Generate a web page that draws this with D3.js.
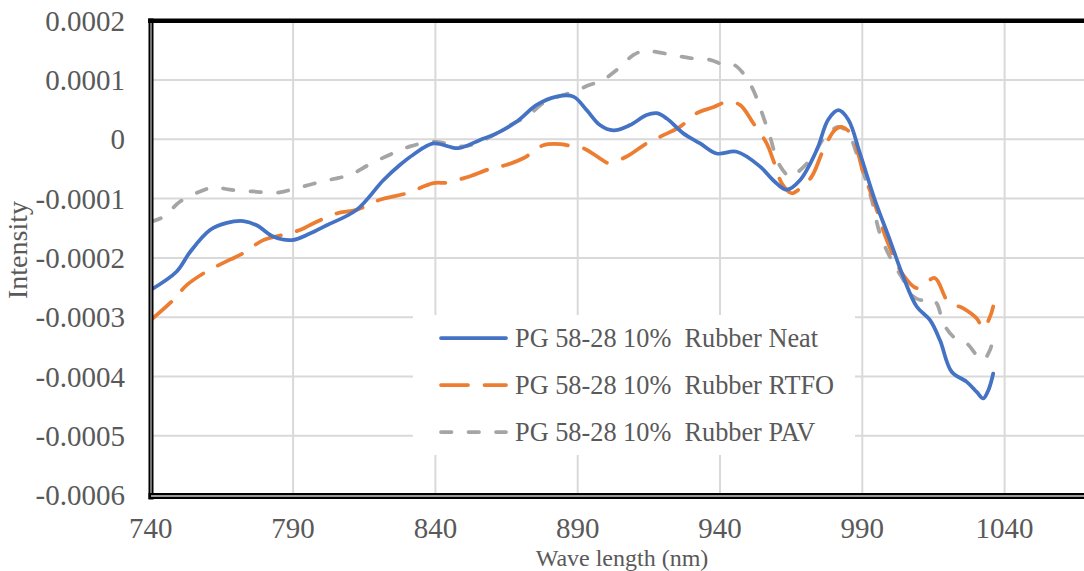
<!DOCTYPE html>
<html>
<head>
<meta charset="utf-8">
<script src="https://cdn.jsdelivr.net/npm/d3@7"></script>
<style>
  body { margin: 0; background: #fff; }
  svg { display: block; font-family: "Liberation Serif", "Times New Roman", serif; }
</style>
</head>
<body>
<script>
// wavelength (nm), intensity
const neat = [
  [740, -0.000254], [749.1, -0.000223], [753.8, -0.00019], [760.8, -0.000153],
  [766.7, -0.000141], [772.5, -0.000138], [777.2, -0.000145], [783, -0.000164],
  [789.5, -0.00017], [795.9, -0.000159], [801.8, -0.000145], [812.3, -0.000119],
  [821.7, -0.000069], [827.6, -0.000043], [832.2, -0.000026], [839.3, -0.000007],
  [848, -0.000015], [855.7, -0.000001], [861.5, 0.00001], [868.6, 0.00003],
  [875.6, 0.000058], [882.6, 0.000072], [888.5, 0.000072], [893.2, 0.000049],
  [897.8, 0.000024], [902.5, 0.000015], [908.4, 0.000024], [914.2, 0.000041],
  [917.8, 0.000044], [921.3, 0.000035], [927.1, 0.00001], [933, -0.000007],
  [938.8, -0.000024], [945.9, -0.000021], [954.1, -0.000046], [958.7, -0.000069],
  [963.4, -0.000085], [968.1, -0.000069], [974, -0.000018], [978, 0.000033],
  [981.6, 0.000049], [985.1, 0.000033], [989.2, -0.000024], [994.4, -0.000102],
  [999.7, -0.00017], [1004.4, -0.000232], [1009.1, -0.000282], [1013.8, -0.000305],
  [1017.3, -0.000339], [1021.4, -0.000392], [1026.7, -0.000409], [1030.2, -0.000426],
  [1032.5, -0.000437], [1034.3, -0.000423], [1036, -0.000395]
];
const rtfo = [
  [740, -0.000305], [747.9, -0.000271], [752.6, -0.000246], [759.6, -0.000223],
  [767.8, -0.000203], [772.5, -0.000192], [779.5, -0.00017], [786.6, -0.000161],
  [792.4, -0.000153], [798.3, -0.000139], [805.3, -0.000125], [812.3, -0.000119],
  [820.5, -0.000102], [829.9, -0.000091], [839.3, -0.000074], [844, -0.000073],
  [851, -0.000064], [859.2, -0.00005], [865.1, -0.000043], [870.9, -0.000032],
  [874.4, -0.000021], [877.9, -0.00001], [883.8, -0.000008], [887.3, -0.000011],
  [892, -0.000015], [897.8, -0.000032], [900.8, -0.00004], [907.2, -0.000029],
  [914.2, -0.000007], [920.1, 0.000007], [925.9, 0.000021], [931.8, 0.000044],
  [937.6, 0.000054], [942.4, 0.000063], [947, 0.000058], [951.7, 0.000027],
  [956.4, -0.000007], [958.7, -0.000035], [961.7, -0.000074], [965.2, -0.000091],
  [968.1, -0.000083], [972.2, -0.000063], [976.3, -0.000018], [980.4, 0.000016],
  [982.8, 0.000021], [986.3, 0.000007], [990.4, -0.000057], [993.9, -0.000102],
  [998.6, -0.00017], [1004.4, -0.000229], [1009.1, -0.000251], [1011.4, -0.000246],
  [1015.5, -0.000234], [1020.2, -0.000274], [1025.5, -0.000285], [1030.2, -0.000302],
  [1032.5, -0.000319], [1034.9, -0.000299], [1036, -0.000282]
];
const pav = [
  [740, -0.000139], [744.4, -0.000131], [750.3, -0.000105], [757.3, -0.000088],
  [762, -0.000081], [767.8, -0.000085], [776, -0.000088], [784.2, -0.00009],
  [790.1, -0.000084], [797.1, -0.000075], [804.1, -0.000067], [810, -0.00006],
  [817, -0.000042], [824, -0.000026], [831.1, -0.000012], [839.3, -0.000004],
  [842.8, -0.000006], [849.8, -0.000012], [855.7, -0.000004], [861.5, 0.00001],
  [867.4, 0.000027], [872.1, 0.000038], [877.9, 0.000061], [882.6, 0.000071],
  [888.5, 0.00008], [894.3, 0.000092], [897.8, 0.000097], [903.7, 0.000117],
  [909.5, 0.000142], [913.1, 0.000149], [916.6, 0.000148], [923.6, 0.000142],
  [929.5, 0.000137], [936.5, 0.000134], [941.2, 0.000126], [944.7, 0.000126],
  [948.2, 0.000111], [951.7, 0.000083], [954.1, 0.000053], [957.6, 0.000004],
  [960.5, -0.00004], [964.6, -0.000063], [966.9, -0.000057], [971.6, -0.000035],
  [976.9, 0.000004], [981.6, 0.000021], [985.1, 0.00001], [988, -0.000024],
  [991.6, -0.000074], [993.3, -0.000102], [996.2, -0.000159], [1000.3, -0.000204],
  [1004.4, -0.000237], [1006.8, -0.00026], [1010.3, -0.000271], [1013.8, -0.000268],
  [1016.2, -0.000277], [1018.5, -0.00031], [1022, -0.000333], [1026.7, -0.000344],
  [1030.2, -0.000364], [1032.5, -0.000372], [1034.9, -0.000355], [1036, -0.000333]
];

const seriesNames = ["PG 58-28 10%  Rubber Neat", "PG 58-28 10%  Rubber RTFO", "PG 58-28 10%  Rubber PAV"];
const seriesColors = ["#4472c4", "#ed7d31", "#a5a5a5"];
const seriesDash = [null, "27 16.5", "10.5 17"];
const xTicks = [740, 790, 840, 890, 940, 990, 1040, 1090];
const yTicks = [0.0002, 0.0001, 0, -0.0001, -0.0002, -0.0003, -0.0004, -0.0005, -0.0006];

const width = 1084, height = 571;
const margin = { top: 20.7, left: 150.8 };
const plotBottom = 495.1;

const svg = d3.select("body").append("svg")
  .attr("width", width)
  .attr("height", height);

const x = d3.scaleLinear().domain([740, 1090]).range([margin.left, margin.left + 7 * 142.3]);
const y = d3.scaleLinear().domain([-0.0006, 0.0002]).range([plotBottom, margin.top]);

// grid
svg.append("g").selectAll("line").data(yTicks).join("line")
  .attr("x1", margin.left).attr("x2", width)
  .attr("y1", d => y(d)).attr("y2", d => y(d))
  .attr("stroke", "#d9d9d9").attr("stroke-width", 2);
svg.append("g").selectAll("line").data(xTicks.slice(1)).join("line")
  .attr("x1", d => x(d)).attr("x2", d => x(d))
  .attr("y1", margin.top).attr("y2", plotBottom)
  .attr("stroke", "#d9d9d9").attr("stroke-width", 2);

// tick labels
svg.append("g").selectAll("text").data(yTicks).join("text")
  .attr("x", 125).attr("y", d => y(d) + 10)
  .attr("text-anchor", "end")
  .attr("font-size", 29).attr("fill", "#595959")
  .text(d => d === 0 ? "0" : d3.format(".4f")(d).replace("−", "-"));

svg.append("g").selectAll("text").data(xTicks.slice(0, 7)).join("text")
  .attr("x", d => x(d)).attr("y", 538)
  .attr("text-anchor", "middle")
  .attr("font-size", 29).attr("fill", "#595959")
  .text(d => d);

svg.append("text")
  .attr("x", 622).attr("y", 565.5)
  .attr("text-anchor", "middle")
  .attr("font-size", 24).attr("fill", "#595959")
  .text("Wave length (nm)");

svg.append("text")
  .attr("transform", "translate(27,250) rotate(-90)")
  .attr("text-anchor", "middle")
  .attr("font-size", 28).attr("fill", "#595959")
  .text("Intensity");

// series
const line = d3.line()
  .x(d => x(d[0]))
  .y(d => y(d[1]))
  .curve(d3.curveCatmullRom.alpha(0.5));

const data = [neat, rtfo, pav];
[2, 1, 0].forEach(i => {
  svg.append("path")
    .datum(data[i])
    .attr("fill", "none")
    .attr("stroke", seriesColors[i])
    .attr("stroke-width", 3.75)
    .attr("stroke-linecap", "round")
    .attr("stroke-linejoin", "round")
    .attr("stroke-dasharray", seriesDash[i])
    .attr("d", line);
});

// frame
svg.append("line")
  .attr("x1", 148).attr("x2", width).attr("y1", margin.top).attr("y2", margin.top)
  .attr("stroke", "#000").attr("stroke-width", 4.5);
svg.append("line")
  .attr("x1", 151).attr("x2", 151).attr("y1", 18.5).attr("y2", 499.5)
  .attr("stroke", "#000").attr("stroke-width", 5);
svg.append("line")
  .attr("x1", 151).attr("x2", 151).attr("y1", 23).attr("y2", 496)
  .attr("stroke", "#9a9a9a").attr("stroke-width", 1.5);
svg.append("line")
  .attr("x1", 148.5).attr("x2", width).attr("y1", 496).attr("y2", 496)
  .attr("stroke", "#000").attr("stroke-width", 6);
svg.append("line")
  .attr("x1", 151).attr("x2", width).attr("y1", 496).attr("y2", 496)
  .attr("stroke", "#9a9a9a").attr("stroke-width", 2);

// legend
const legend = svg.append("g");
legend.append("rect")
  .attr("x", 413).attr("y", 315).attr("width", 442).attr("height", 140)
  .attr("fill", "#fff");
const rowY = [338, 385, 432];
seriesNames.forEach((name, i) => {
  legend.append("line")
    .attr("x1", 441).attr("x2", 506)
    .attr("y1", rowY[i]).attr("y2", rowY[i])
    .attr("stroke", seriesColors[i])
    .attr("stroke-width", 3.75)
    .attr("stroke-linecap", "round")
    .attr("stroke-dasharray", seriesDash[i]);
  legend.append("text")
    .attr("x", 515).attr("y", rowY[i] + 9)
    .attr("font-size", 26.3).attr("fill", "#595959")
    .style("white-space", "pre")
    .text(name);
});
</script>
</body>
</html>
